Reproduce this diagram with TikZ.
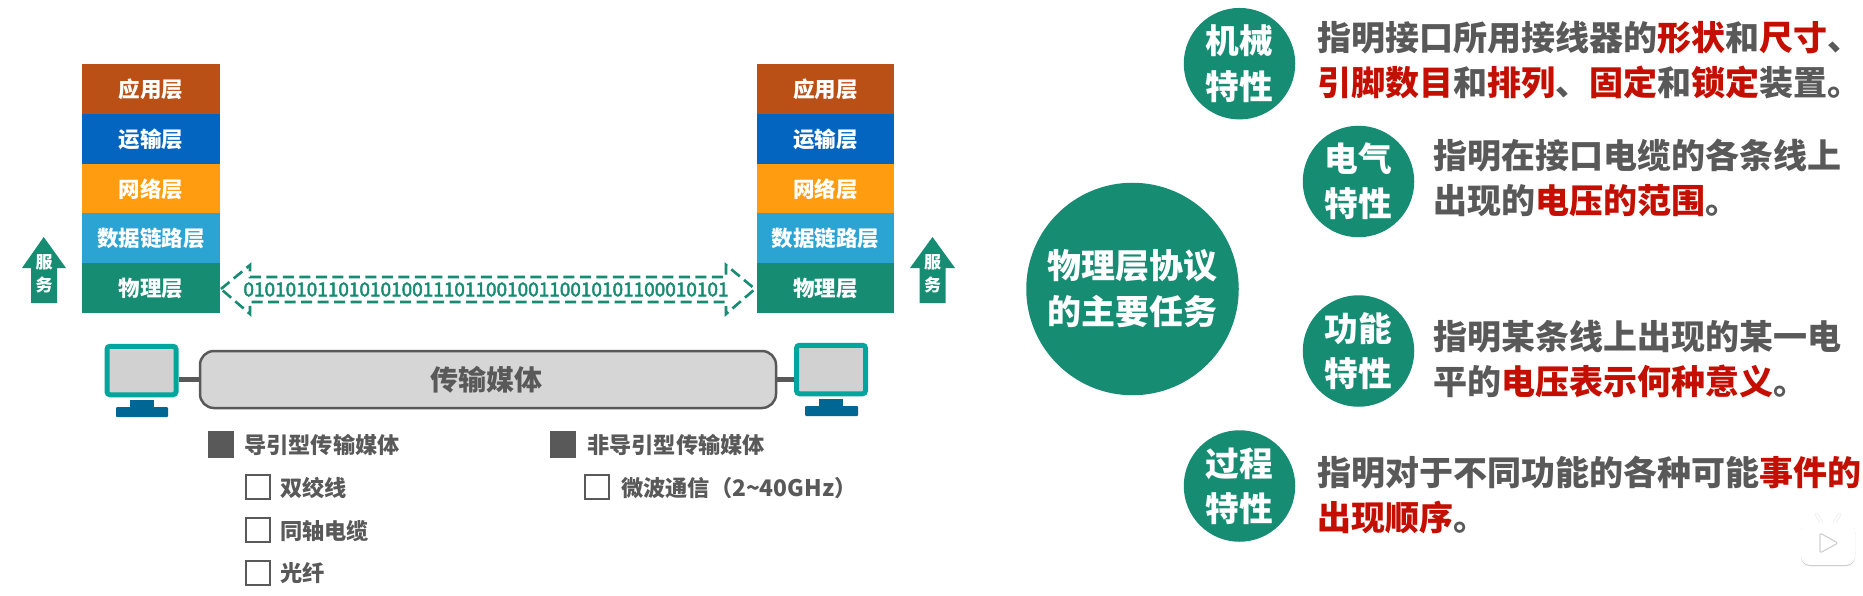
\documentclass[tikz,border=0pt]{standalone}
\usepackage{fontspec}
\setmainfont{Noto Sans CJK SC}
\newfontfamily\bitsfont[FakeBold=2.5]{Noto Sans CJK SC}
\definecolor{appc}{HTML}{BA5015}
\definecolor{trac}{HTML}{0465C0}
\definecolor{netc}{HTML}{FF9C10}
\definecolor{linc}{HTML}{2BA3D3}
\definecolor{phyc}{HTML}{168C72}
\definecolor{grayt}{HTML}{595959}
\definecolor{redt}{HTML}{C40F00}
\definecolor{pcteal}{HTML}{00A59C}
\definecolor{pcblue}{HTML}{006795}
\newcommand{\fs}[2]{\fontsize{#1}{#2}\selectfont\bfseries}
\newcommand{\hl}[1]{\textcolor{redt}{#1}}
\newcommand{\lowr}[1]{\raisebox{-1pt}{#1}}
\tikzset{
  layer/.style={rectangle,draw=none,fill=#1,text=white,minimum width=137.5pt,minimum height=50pt,inner sep=0pt,font=\fs{21.5}{26}},
  svcarrow/.style={fill=phyc,draw=none},
  svctext/.style={text=white,inner sep=0pt,align=center,font=\fs{17}{23}},
  screen/.style={rectangle,draw=pcteal,fill=black!18,line width=5pt,rounded corners=3pt,minimum width=69pt,minimum height=48.5pt,inner sep=0pt},
  pcpart/.style={fill=pcblue,draw=none},
  wire/.style={draw=grayt,line width=5pt},
  medium/.style={rectangle,draw=grayt,fill=black!16,line width=2.5pt,rounded corners=14pt,minimum width=576pt,minimum height=57pt,inner sep=0pt,text=grayt,font=\fs{28}{32}},
  filledbox/.style={rectangle,fill=grayt,draw=none,minimum size=26.5pt,inner sep=0pt},
  openbox/.style={rectangle,draw=grayt,fill=white,line width=2.2pt,minimum size=24pt,inner sep=0pt},
  listtext/.style={anchor=west,inner sep=0pt,text=grayt,font=\fs{22.2}{26}},
  small/.style={circle,fill=phyc,draw=none,text=white,minimum size=111.5pt,inner sep=0pt,align=center,font=\fs{33.7}{45.2}},
  big/.style={circle,fill=phyc,draw=none,text=white,minimum size=212.5pt,inner sep=0pt,align=center,font=\fs{34}{46}},
  body/.style={anchor=west,inner sep=0pt,align=left,text=grayt,font=\fs{34}{45}},
  bitstext/.style={inner sep=0pt,text=phyc,font=\bitsfont\fontsize{19}{22}\selectfont},
  dasharrow/.style={draw=phyc,line width=2.6pt,dash pattern=on 11pt off 5.5pt},
}
\begin{document}
\begin{tikzpicture}[x=1pt,y=-1pt]
\useasboundingbox[fill=white] (0,0) rectangle (1863,596);
% left stack
\node[layer=appc] (appL) at (150.75,89) {\lowr{应用层}};
\node[layer=trac] (traL) at (150.75,139) {\lowr{运输层}};
\node[layer=netc] (netL) at (150.75,189) {\lowr{网络层}};
\node[layer=linc] (linL) at (150.75,238.5) {\lowr{数据链路层}};
\node[layer=phyc] (phyL) at (150.75,288) {\lowr{物理层}};
% right stack
\node[layer=appc] (appR) at (825.5,89) {\lowr{应用层}};
\node[layer=trac] (traR) at (825.5,139) {\lowr{运输层}};
\node[layer=netc] (netR) at (825.5,189) {\lowr{网络层}};
\node[layer=linc] (linR) at (825.5,238.5) {\lowr{数据链路层}};
\node[layer=phyc] (phyR) at (825.5,288) {\lowr{物理层}};
% service arrows
\fill[svcarrow] (43.7,237) -- (66,268) -- (57,268) -- (57,303) -- (31,303) -- (31,268) -- (22,268) -- cycle;
\node[svctext] (svcL) at (44,273.5) {服\\务};
\fill[svcarrow] (932.5,237) -- (955,268) -- (945.5,268) -- (945.5,303) -- (919.5,303) -- (919.5,268) -- (910,268) -- cycle;
\node[svctext] (svcR) at (932.5,273.5) {服\\务};
% bit stream
\draw[dasharrow] (221,289) -- (250,265) -- (250,277) -- (726,277) -- (726,265) -- (755,289) -- (726,314) -- (726,302) -- (250,302) -- (250,314) -- cycle;
\node[bitstext] (bits) at (486,289.5) {0101010110101010011101100100110010101100010101};
% medium and computers
\node[medium] (med) at (488,379.5) {\hspace*{-4pt}传输媒体};
\node[screen] (pcL) at (141.5,370.5) {};
\node[screen] (pcR) at (831,369.5) {};
\draw[wire] (med.west) -- (med.west -| pcL.east);
\draw[wire] (med.east) -- (med.east -| pcR.west);
\fill[pcpart] (130,400) rectangle (154,408);
\fill[pcpart,rounded corners=1pt] (116,407) rectangle (168,417);
\fill[pcpart] (819,399) rectangle (843,407);
\fill[pcpart,rounded corners=1pt] (805,406) rectangle (858,416);
% lists
\node[filledbox] (b1) at (221.2,444.5) {};
\node[listtext] (t1) at (244,445) {导引型传输媒体};
\node[filledbox] (b2) at (563.2,444.5) {};
\node[listtext] (t2) at (587,445) {非导引型传输媒体};
\node[openbox] (c1) at (258,487) {};
\node[listtext] (l1) at (280,488) {双绞线};
\node[openbox] (c2) at (258,530) {};
\node[listtext] (l2) at (280,531) {同轴电缆};
\node[openbox] (c3) at (258,573) {};
\node[listtext] (l3) at (280,573.5) {光纤};
\node[openbox] (c4) at (597,487) {};
\node[listtext] (l4) at (621,488) {微波通信（{\fontsize{22.8}{26}\selectfont 2\textasciitilde 40GHz}）};
% right side
\node[big] (main) at (1132.5,289) {物理层协议\\的主要任务};
\node[small] (mech) at (1239.5,63.7) {\lowr{机械}\\\lowr{特性}};
\node[small] (elec) at (1358.5,181.5) {\lowr{电气}\\\lowr{特性}};
\node[small] (func) at (1358.5,351) {\lowr{功能}\\\lowr{特性}};
\node[small] (proc) at (1239.5,486) {\lowr{过程}\\\lowr{特性}};
\node[body] (mechT) at (1317.5,60) {指明接口所用接线器的\hl{形状}和\hl{尺寸}、\\\hl{引脚数目}和\hl{排列}、\hl{固定}和\hl{锁定}装置。};
\node[body] (elecT) at (1433,177.5) {指明在接口电缆的各条线上\\出现的\hl{电压的范围}。};
\node[body] (funcT) at (1433,359.5) {指明某条线上出现的某一电\\平的\hl{电压表示何种意义}。};
\node[body] (procT) at (1317.5,495) {指明对于不同功能的各种可能\hl{事件的}\\\hl{出现顺序}。};
% watermark
\draw[black!12,line width=3pt,line cap=round] (1816,514) -- (1822,523) (1840,514) -- (1834,523);
\fill[black!22,rounded corners=9pt] (1801,523) rectangle (1855,566);
\draw[white,line width=2pt,line cap=round] (1816,514) -- (1822,523) (1840,514) -- (1834,523);
\fill[white,rounded corners=9pt] (1801,522) rectangle (1855,565);
\draw[black!18,fill=white,line width=1.2pt,rounded corners=2pt,line join=round] (1820,533) -- (1820,553) -- (1838,543) -- cycle;
\end{tikzpicture}
\end{document}
